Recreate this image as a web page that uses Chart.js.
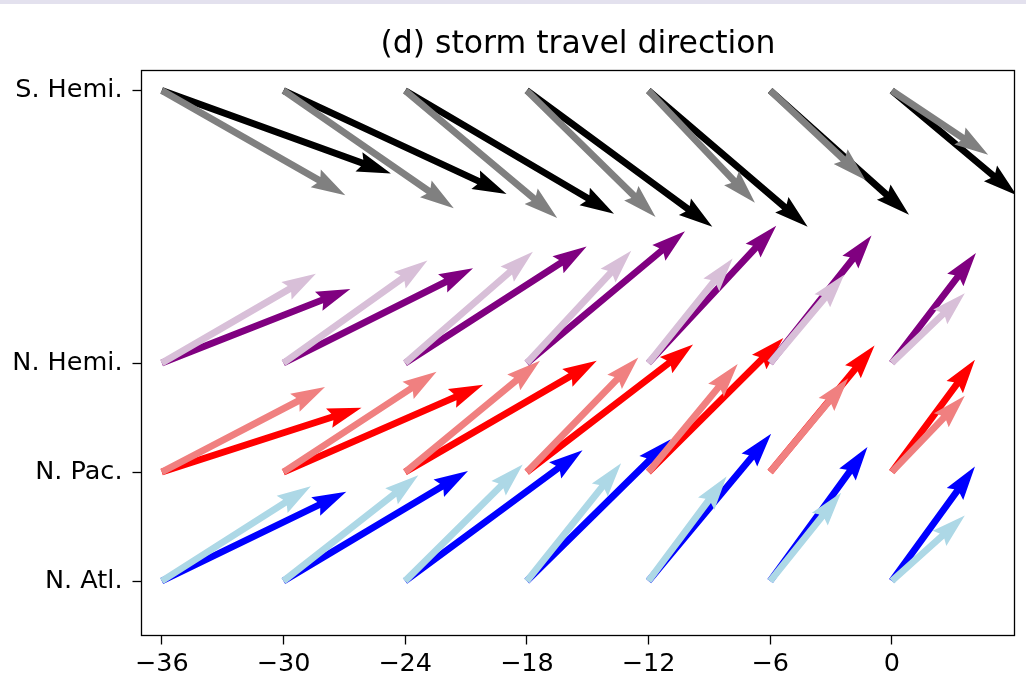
<!DOCTYPE html>
<html>
<head>
<meta charset="utf-8">
<script src="https://cdn.jsdelivr.net/npm/chart.js@4.4.1/dist/chart.umd.min.js"></script>
<style>
  html, body { margin: 0; padding: 0; background: #fff; }
  canvas { display: block; }
</style>
</head>
<body>
<canvas id="quiver" width="1026" height="682"></canvas>
<script>
// Tail positions of the arrows
const startX = [-36, -30, -24, -18, -12, -6, 0];
const regionLabels = ['N. Atl.', 'N. Pac.', 'N. Hemi.', 'S. Hemi.'];
const regionY = [0, 1, 2, 4.5];
const xTicks = [-36, -30, -24, -18, -12, -6, 0];

// Arrow components (u = along x, v = along y) per region, dark and light series
const atlDarkU = [9.1, 9.1, 8.75, 7.1, 6.05, 4.8, 4.1];
const atlDarkV = [0.82, 1.01, 1.2, 1.3, 1.35, 1.23, 1.05];
const atlLightU = [7.35, 6.65, 5.8, 4.65, 3.85, 3.5, 3.6];
const atlLightV = [0.87, 0.97, 1.07, 1.08, 0.96, 0.81, 0.6];

const pacDarkU = [9.85, 9.85, 9.45, 8.2, 6.65, 5.15, 4.1];
const pacDarkV = [0.59, 0.8, 1.02, 1.17, 1.23, 1.16, 1.03];
const pacLightU = [8.05, 7.55, 6.65, 5.5, 4.4, 3.85, 3.6];
const pacLightV = [0.78, 0.92, 1.02, 1.05, 0.99, 0.86, 0.7];

const nhDarkU = [9.3, 9.35, 8.95, 7.8, 6.3, 5.0, 4.15];
const nhDarkV = [0.68, 0.87, 1.07, 1.21, 1.26, 1.17, 1.01];
const nhLightU = [7.6, 7.1, 6.3, 5.15, 4.15, 3.65, 3.6];
const nhLightV = [0.82, 0.94, 1.02, 1.03, 0.96, 0.81, 0.64];

const shDarkU = [11.3, 11.0, 10.3, 9.15, 7.85, 6.85, 6.15];
const shDarkV = [-0.76, -0.95, -1.13, -1.25, -1.25, -1.14, -0.96];
const shLightU = [9.05, 8.4, 7.5, 6.35, 5.25, 4.7, 4.75];
const shLightV = [-0.96, -1.08, -1.17, -1.16, -1.03, -0.82, -0.59];

const FONT = "'DejaVu Sans', sans-serif";

function makeSet(label, row, u, v, color) {
    return {
        label: label,
        data: startX.map(x => ({ x: x, y: regionY[row] })),
        u: u,
        v: v,
        arrowColor: color,
        pointRadius: 0,
        showLine: false
    };
}

// draw order: bottom row first, dark then light
const datasets = [
    makeSet('N. Atl. dark', 0, atlDarkU, atlDarkV, '#0000ff'),
    makeSet('N. Atl. light', 0, atlLightU, atlLightV, '#add8e6'),
    makeSet('N. Pac. dark', 1, pacDarkU, pacDarkV, '#ff0000'),
    makeSet('N. Pac. light', 1, pacLightU, pacLightV, '#f08080'),
    makeSet('N. Hemi. dark', 2, nhDarkU, nhDarkV, '#800080'),
    makeSet('N. Hemi. light', 2, nhLightU, nhLightV, '#d8bfd8'),
    makeSet('S. Hemi. dark', 3, shDarkU, shDarkV, '#000000'),
    makeSet('S. Hemi. light', 3, shLightU, shLightV, '#808080')
];

// matplotlib style quiver arrow (headwidth 3, headlength 5, headaxislength 4.5)
function drawArrow(c, x0, y0, x1, y1, w, color) {
    const L = Math.hypot(x1 - x0, y1 - y0);
    const a = Math.atan2(y1 - y0, x1 - x0);
    c.save();
    c.translate(x0, y0);
    c.rotate(a);
    c.beginPath();
    c.moveTo(0, -w / 2);
    c.lineTo(L - 4.5 * w, -w / 2);
    c.lineTo(L - 5 * w, -1.5 * w);
    c.lineTo(L, 0);
    c.lineTo(L - 5 * w, 1.5 * w);
    c.lineTo(L - 4.5 * w, w / 2);
    c.lineTo(0, w / 2);
    c.closePath();
    c.fillStyle = color;
    c.fill();
    c.restore();
}

const quiverPlugin = {
    id: 'quiver',
    beforeDraw(chart) {
        const c = chart.ctx;
        c.save();
        c.fillStyle = '#ffffff';
        c.fillRect(0, 0, chart.width, chart.height);
        c.fillStyle = '#e3e1ee';
        c.fillRect(0, 0, chart.width, 4);
        c.restore();
    },
    afterDatasetsDraw(chart) {
        const c = chart.ctx;
        const xs = chart.scales.x, ys = chart.scales.y;
        const area = chart.chartArea;
        c.save();
        c.beginPath();
        c.rect(area.left, area.top, area.right - area.left, area.bottom - area.top);
        c.clip();
        chart.data.datasets.forEach(ds => {
            ds.data.forEach((p, i) => {
                const x0 = xs.getPixelForValue(p.x);
                const y0 = ys.getPixelForValue(p.y);
                const x1 = xs.getPixelForValue(p.x + ds.u[i]);
                const y1 = ys.getPixelForValue(p.y + ds.v[i]);
                drawArrow(c, x0, y0, x1, y1, 6.8, ds.arrowColor);
            });
        });
        c.restore();

        // axes frame
        c.save();
        c.strokeStyle = '#000';
        c.lineWidth = 1.3;
        c.strokeRect(area.left, area.top, area.right - area.left, area.bottom - area.top);
        c.restore();
    },
    afterDraw(chart) {
        const c = chart.ctx;
        const area = chart.chartArea;
        c.save();
        c.fillStyle = '#000';
        c.font = '31.5px ' + FONT;
        c.textAlign = 'center';
        c.textBaseline = 'alphabetic';
        c.fillText('(d) storm travel direction', (area.left + area.right) / 2, 53);
        c.restore();
    }
};

const tickFont = { family: FONT, size: 25.5 };

new Chart(document.getElementById('quiver'), {
    type: 'scatter',
    data: { datasets: datasets },
    options: {
        responsive: false,
        animation: false,
        events: [],
        layout: { padding: { left: 0, right: 11.5, top: 70.5, bottom: 0 } },
        plugins: {
            legend: { display: false },
            tooltip: { enabled: false },
            title: { display: false }
        },
        scales: {
            x: {
                type: 'linear',
                min: -37,
                max: 6.05,
                afterBuildTicks: axis => { axis.ticks = xTicks.map(v => ({ value: v })); },
                afterFit: axis => { axis.height = 46.5; },
                border: { display: false },
                grid: { drawOnChartArea: false, drawTicks: true, tickLength: 9, tickColor: '#000', tickWidth: 1.3 },
                ticks: {
                    color: '#000',
                    font: tickFont,
                    padding: 5,
                    maxRotation: 0,
                    autoSkip: false,
                    callback: v => (v < 0 ? '\u2212' + Math.abs(v) : String(v))
                }
            },
            y: {
                type: 'linear',
                min: -0.5,
                max: 4.684,
                afterBuildTicks: axis => { axis.ticks = regionY.map(v => ({ value: v })); },
                afterFit: axis => { axis.width = 141.5; },
                border: { display: false },
                grid: { drawOnChartArea: false, drawTicks: true, tickLength: 9, tickColor: '#000', tickWidth: 1.3 },
                ticks: {
                    color: '#000',
                    font: tickFont,
                    padding: 10,
                    autoSkip: false,
                    callback: v => regionLabels[regionY.indexOf(v)]
                }
            }
        }
    },
    plugins: [quiverPlugin]
});
</script>
</body>
</html>
